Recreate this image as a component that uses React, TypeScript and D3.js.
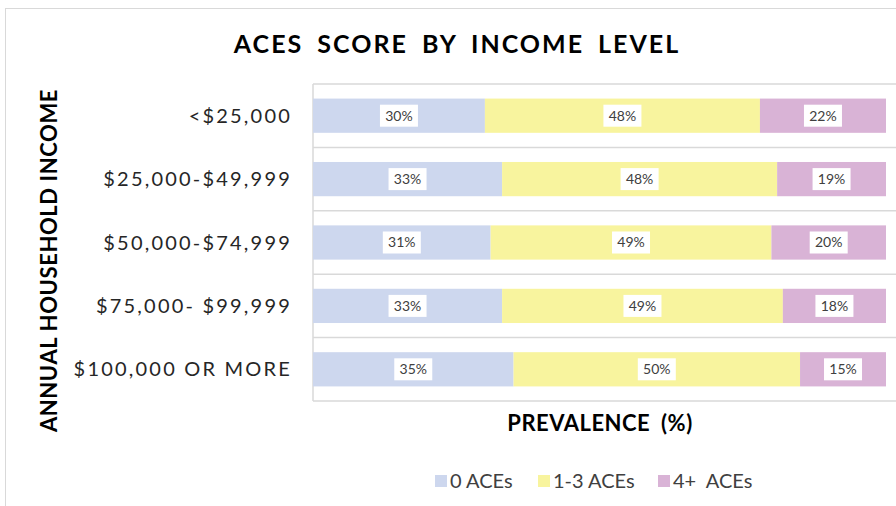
import React from 'react';
import * as d3 from 'd3';

const categories = ['<$25,000', '$25,000-$49,999', '$50,000-$74,999', '$75,000- $99,999', '$100,000 OR MORE'];
const zeroAces = [30, 33, 31, 33, 35];
const oneToThree = [48, 48, 49, 49, 50];
const fourPlus = [22, 19, 20, 18, 15];
const seriesNames = ['0 ACEs', '1-3 ACEs', '4+  ACEs'];
const colors = ['#cdd7ee', '#f8f49e', '#d9b3d6'];

const W = 896, H = 506;
const margin = { top: 84, right: 10, bottom: 105, left: 313 };
const font = "Lato, 'Open Sans', sans-serif";

export default function App() {
    const innerW = W - margin.left - margin.right;
    const innerH = H - margin.top - margin.bottom;

    const x = d3.scaleLinear().domain([0, 100]).range([0, 573]);
    const y = d3.scaleBand().domain(categories).range([0, innerH]).paddingInner(0.46).paddingOuter(0.23);

    const rows = categories.map((c, i) => ({ '0': zeroAces[i], '1': oneToThree[i], '2': fourPlus[i], cat: c }));
    const stack = d3.stack<any>().keys(['0', '1', '2'])(rows);

    const gridYs = d3.range(categories.length + 1).map(i => i * (innerH / categories.length));

    return <div style={{ position: 'absolute', left: 0, top: 0 }}>
        <svg width={W} height={H} style={{ display: 'block', background: '#fff' }}>
            <rect x={5.5} y={8.5} width={W + 10} height={H + 10} fill="none" stroke="#d9d9d9" />
            <text x={457} y={53} textAnchor="middle" fontFamily={font} fontWeight="bold" fontSize={25} letterSpacing={2} wordSpacing={6} fill="#000">ACES SCORE BY INCOME LEVEL</text>

            <g transform={`translate(${margin.left},${margin.top})`}>
                {gridYs.map((gy, i) => <line key={i} x1={0} x2={innerW + 20} y1={gy} y2={gy} stroke="#d9d9d9" strokeWidth={1.5} />)}
                <line x1={0} x2={0} y1={0} y2={innerH} stroke="#d9d9d9" strokeWidth={1.5} />

                {stack.map((s, si) => s.map((d, di) => {
                    const cat = categories[di];
                    const x0 = x(d[0]), x1 = x(d[1]);
                    const by = y(cat)!;
                    const cx = (x0 + x1) / 2, cy = by + y.bandwidth() / 2;
                    return <g key={si + '-' + di}>
                        <rect x={x0} y={by} width={x1 - x0} height={y.bandwidth()} fill={colors[si]} />
                        <rect x={cx - 19} y={cy - 11} width={38} height={22} fill="#fff" />
                        <text x={cx} y={cy} dy="0.35em" textAnchor="middle" fontFamily={font} fontSize={14} fill="#404040">{(d[1] - d[0]) + '%'}</text>
                    </g>
                }))}

                {categories.map(c => <text key={c} x={-21} y={y(c)! + y.bandwidth() / 2} dy="0.35em" textAnchor="end" fontFamily={font} fontSize={20} letterSpacing={2.2} fill="#262626">{c}</text>)}
            </g>

            <text transform={`translate(57,${margin.top + innerH / 2 + 18}) rotate(-90)`} textAnchor="middle" fontFamily={font} fontWeight="bold" fontSize={22} letterSpacing={0.6} fill="#000">ANNUAL HOUSEHOLD INCOME</text>
            <text x={600} y={431} textAnchor="middle" fontFamily={font} fontWeight="bold" fontSize={22} letterSpacing={0.5} wordSpacing={5} fill="#000">PREVALENCE (%)</text>

            <g transform="translate(0,481)">
                {seriesNames.map((n, i) => {
                    const lx = [435, 538, 658][i];
                    return <g key={n}>
                        <rect x={lx} y={-6} width={12} height={12} fill={colors[i]} />
                        <text x={lx + 15} y={0} dy="0.35em" fontFamily={font} fontSize={20} fill="#404040" style={{ whiteSpace: 'pre' }}>{n}</text>
                    </g>
                })}
            </g>
        </svg>
    </div>
}
